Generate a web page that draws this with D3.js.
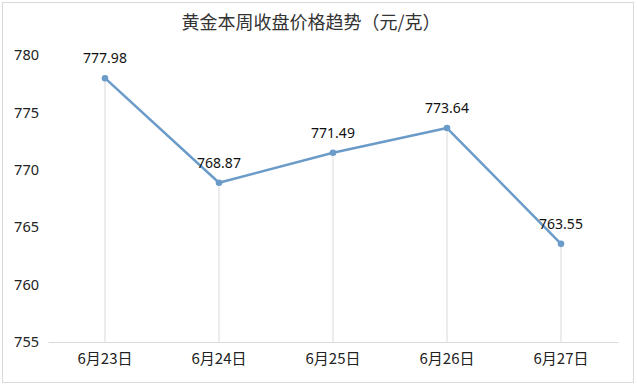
<!DOCTYPE html>
<html><head><meta charset="utf-8">
<script src="https://cdn.jsdelivr.net/npm/d3@7/dist/d3.min.js"></script>
<style>body{margin:0;background:#fff}svg{display:block}</style>
</head><body>
<svg id="c" width="637" height="387"></svg>
<script>
const title = "黄金本周收盘价格趋势（元/克）";
const categories = ["6月23日","6月24日","6月25日","6月26日","6月27日"];
const prices = [777.98, 768.87, 771.49, 773.64, 763.55];
const yTicks = [755, 760, 765, 770, 775, 780];

const svg = d3.select("#c");
const W = 637, H = 387;
const m = {left: 48, right: 19, top: 55, bottom: 45};
const font = "'Noto Sans', 'Noto Sans CJK SC', sans-serif";

svg.append("rect").attr("x",2.5).attr("y",2.5).attr("width",631).attr("height",380)
  .attr("fill","#fff").attr("stroke","#d9d9d9");

const x = d3.scaleBand().domain(categories).range([m.left, W - m.right]);
const y = d3.scaleLinear().domain([755, 780]).range([H - m.bottom, m.top]);
const cx = d => x(d) + x.bandwidth()/2;

svg.append("text").attr("x", 311).attr("y", 29).attr("text-anchor","middle")
  .attr("font-family","'Noto Sans CJK SC', sans-serif").attr("font-size",18)
  .attr("fill","#333").text(title);

// drop lines
svg.append("g").selectAll("line").data(categories).join("line")
  .attr("x1", d => cx(d)).attr("x2", d => cx(d))
  .attr("y1", (d,i) => y(prices[i])).attr("y2", y(755))
  .attr("stroke","#d9d9d9").attr("stroke-width",1);

// x axis
const xa = svg.append("g").attr("transform", `translate(0,${y(755)})`)
  .call(d3.axisBottom(x).tickSize(0).tickPadding(11));
xa.select(".domain").attr("stroke","#d9d9d9");
xa.selectAll("text").attr("font-family","'Noto Sans CJK SC', sans-serif")
  .attr("font-size",15).attr("fill","#222");

// y axis labels
const ya = svg.append("g").attr("transform", `translate(${m.left - 9},0)`)
  .call(d3.axisLeft(y).tickValues(yTicks).tickSize(0).tickPadding(0));
ya.select(".domain").remove();
ya.selectAll("text").attr("font-family",font).attr("font-size",14.5).attr("fill","#222");

// line
const line = d3.line().x((d,i) => cx(categories[i])).y(d => y(d));
svg.append("path").datum(prices).attr("d", line).attr("fill","none")
  .attr("stroke","#6b9bc8").attr("stroke-width",2.5).attr("stroke-linejoin","round");

svg.append("g").selectAll("circle").data(prices).join("circle")
  .attr("cx",(d,i) => cx(categories[i])).attr("cy", d => y(d)).attr("r",3.3)
  .attr("fill","#6b9bc8");

svg.append("g").selectAll("text").data(prices).join("text")
  .attr("x",(d,i) => cx(categories[i])).attr("y", d => y(d) - 15)
  .attr("text-anchor","middle").attr("font-family",font).attr("font-size",14)
  .attr("fill","#111").text(d => d.toFixed(2));
</script>
</body></html>
